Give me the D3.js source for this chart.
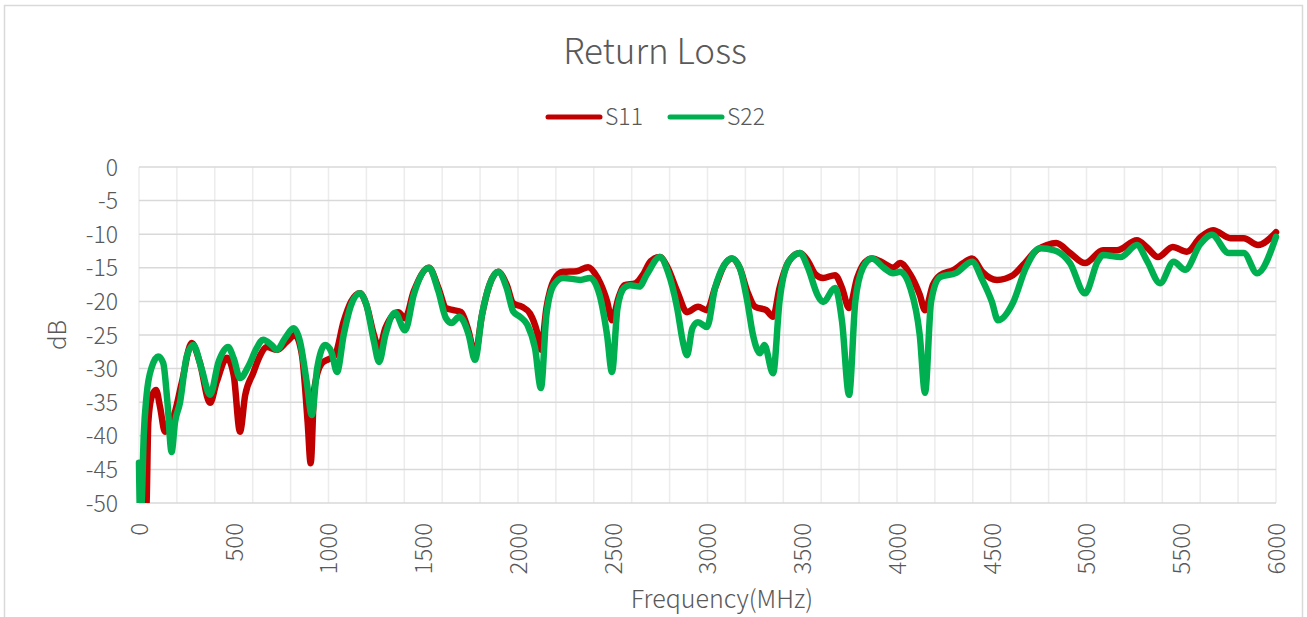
<!doctype html>
<html lang="en">
<head>
  <meta charset="UTF-8">
  <title>Return Loss</title>
  <script src="https://cdn.jsdelivr.net/npm/d3@7"></script>
  <style>
    body { margin: 0; background: #fff; }
    text { font-family: "Noto Sans CJK SC", "Noto Sans", sans-serif; font-weight: 300; fill: #595959; }
  </style>
</head>
<body>
<div id="chart"></div>
<script>
  // frequency (MHz) and dB readings, one pair of arrays per trace
  var s11Freq = [0, 20, 40, 49, 67, 90, 111, 137, 155, 181, 225, 278, 320, 375, 410, 464, 500, 533, 560, 602,
    640, 675, 728, 780, 823, 860, 890, 906, 925, 965, 1000, 1034, 1080, 1120, 1166, 1200, 1240, 1267, 1300, 1368,
    1404, 1450, 1530, 1580, 1620, 1660, 1700, 1740, 1773, 1810, 1850, 1895, 1940, 1975, 2021, 2063, 2100, 2121, 2150, 2190,
    2238, 2310, 2370, 2420, 2470, 2496, 2530, 2560, 2620, 2660, 2700, 2749, 2790, 2840, 2892, 2950, 2997, 3040, 3090, 3129,
    3170, 3210, 3251, 3310, 3346, 3380, 3430, 3488, 3530, 3570, 3610, 3673, 3710, 3747, 3790, 3830, 3868, 3930, 3979, 4016,
    4070, 4120, 4148, 4190, 4227, 4300, 4350, 4396, 4450, 4528, 4612, 4665, 4740, 4791, 4840, 4913, 4992, 5087, 5160, 5266,
    5320, 5377, 5455, 5530, 5600, 5668, 5760, 5830, 5905, 6000];
  var s11dB = [-58, -56, -50, -38, -34.2, -33.2, -35.7, -39.4, -38, -37.2, -32.2, -26.2, -29, -35.1, -32, -28.4, -31, -39.4, -34, -30.7,
    -28, -26.8, -27.2, -26, -25, -28, -38, -44.1, -33, -29.2, -28.6, -28, -23, -20, -18.8, -20.5, -25, -27, -24, -21.6,
    -22.5, -18.5, -15, -18, -21, -21.3, -21.6, -24.5, -28, -22, -17.5, -15.6, -17.5, -20.3, -20.8, -21.8, -24.5, -27.2, -21, -16.8,
    -15.6, -15.5, -14.9, -16.5, -20, -22.8, -19.5, -17.6, -17.3, -16, -14, -13.4, -15, -18.5, -21.6, -20.8, -21.3, -18, -14.5, -13.6,
    -15, -18.5, -20.8, -21.3, -22.3, -18, -14, -12.8, -14, -16, -16.5, -16.1, -18, -21, -16.5, -14.2, -13.6, -14.3, -15, -14.3,
    -16, -19, -21.3, -17.5, -16.1, -15.3, -14.3, -13.6, -15.6, -16.8, -16.1, -14.6, -12.3, -11.6, -11.3, -12.8, -14.3, -12.4, -12.4, -10.9,
    -12, -13.4, -11.9, -12.6, -10.5, -9.4, -10.6, -10.6, -11.6, -9.7];

  var s22Freq = [0, 6, 14, 25, 40, 67, 102, 128, 150, 172, 190, 216, 252, 287, 330, 375, 420, 470, 500, 533,
    580, 620, 655, 700, 728, 770, 815, 850, 885, 912, 940, 982, 1015, 1045, 1080, 1120, 1166, 1200, 1240, 1267,
    1300, 1351, 1404, 1450, 1530, 1580, 1620, 1650, 1690, 1740, 1773, 1810, 1850, 1895, 1940, 1975, 2011, 2050, 2090, 2121,
    2150, 2190, 2238, 2330, 2380, 2430, 2470, 2496, 2525, 2560, 2591, 2640, 2680, 2749, 2790, 2840, 2870, 2892, 2920, 2950,
    2997, 3040, 3090, 3129, 3170, 3210, 3240, 3277, 3300, 3346, 3380, 3430, 3488, 3530, 3580, 3610, 3673, 3710, 3747, 3780,
    3820, 3868, 3930, 3979, 4016, 4070, 4120, 4148, 4180, 4227, 4310, 4396, 4450, 4500, 4533, 4612, 4680, 4755, 4830, 4913,
    4992, 5060, 5087, 5180, 5266, 5320, 5388, 5460, 5520, 5600, 5662, 5750, 5830, 5900, 6000];
  var s22dB = [-44, -52, -50, -40, -34, -29.8, -28.2, -29.2, -35, -42.4, -38, -35.1, -28.2, -26.5, -30, -33.9, -29, -26.8, -28.5, -31.4,
    -29.5, -27, -25.7, -26.5, -27.2, -25.5, -24, -26, -32, -36.9, -30, -26.5, -27.5, -30.5, -25, -20.5, -18.8, -20.5, -26, -29,
    -25, -21.7, -24.3, -19, -15, -18.5, -22.5, -23.2, -22.3, -25, -28.7, -22, -17.5, -15.6, -18, -21.5, -22.3, -23.5, -27, -32.9,
    -22, -17.5, -16.5, -16.8, -16.5, -19, -25, -30.5, -21, -18, -17.6, -17.8, -16, -13.4, -15.5, -21, -26, -28, -24, -23.1,
    -23.8, -18, -14.5, -13.6, -15, -20, -25, -27.7, -26.5, -30.7, -20, -14, -12.8, -15, -19, -20.1, -18, -23, -33.9, -20,
    -15, -13.6, -15, -15.8, -15.6, -18, -25, -33.6, -20, -16.4, -15.8, -14.1, -16.8, -20, -22.8, -20.2, -15, -12.1, -12.4, -14.3,
    -18.8, -14, -13.1, -13.4, -11.6, -14, -17.3, -14.1, -15.3, -11.5, -10.1, -12.8, -12.8, -15.8, -10.4];

  var seriesNames = ["S11", "S22"];
  var seriesColors = ["#C00000", "#00B050"];
  var xTickValues = [0, 500, 1000, 1500, 2000, 2500, 3000, 3500, 4000, 4500, 5000, 5500, 6000];
  var yTickValues = [0, -5, -10, -15, -20, -25, -30, -35, -40, -45, -50];

  var width = 1307, height = 617;
  var margin = {left: 139, right: 31, top: 167, bottom: 114};

  var svg = d3.select("#chart").append("svg")
      .attr("width", width)
      .attr("height", height);

  // chart frame
  svg.append("rect")
      .attr("x", 4.5).attr("y", 5.5)
      .attr("width", 1298).attr("height", 640)
      .style("fill", "none")
      .style("stroke", "#d9d9d9")
      .style("stroke-width", 1.5);

  var x = d3.scaleLinear().domain([0, 6000]).range([margin.left, width - margin.right]);
  var y = d3.scaleLinear().domain([-50, 0]).range([height - margin.bottom, margin.top]);

  // vertical grid every 200 MHz, lighter than the horizontal one
  svg.append("g")
      .selectAll("line")
      .data(d3.range(0, 6001, 200))
      .enter().append("line")
      .attr("x1", function(d) { return x(d); })
      .attr("x2", function(d) { return x(d); })
      .attr("y1", y(0)).attr("y2", y(-50))
      .style("stroke", "#ececec")
      .style("stroke-width", 1.5);

  svg.append("g")
      .selectAll("line")
      .data(yTickValues)
      .enter().append("line")
      .attr("x1", x(0)).attr("x2", x(6000))
      .attr("y1", function(d) { return y(d); })
      .attr("y2", function(d) { return y(d); })
      .style("stroke", "#d9d9d9")
      .style("stroke-width", 1.5);

  // y axis labels
  var yAxis = svg.append("g")
      .attr("transform", "translate(" + (margin.left - 21) + ",0)")
      .call(d3.axisLeft(y).tickValues(yTickValues).tickSize(0).tickPadding(0)
        .tickFormat(function(d) { return d < 0 ? "-" + Math.abs(d) : d; }));
  yAxis.select(".domain").remove();
  yAxis.selectAll("text")
      .style("font-size", "23px")
      .style("fill", "#595959")
      .attr("dy", "0.35em")
      .attr("x", 0);

  // x axis labels, rotated
  var xAxis = svg.append("g")
      .attr("transform", "translate(0," + (y(-50) + 20) + ")")
      .call(d3.axisBottom(x).tickValues(xTickValues).tickSize(0).tickPadding(0)
        .tickFormat(d3.format("d")));
  xAxis.select(".domain").remove();
  xAxis.selectAll("text")
      .style("font-size", "24px")
      .style("fill", "#595959")
      .attr("y", 0)
      .attr("dy", "0.35em")
      .attr("transform", "rotate(-90)")
      .style("text-anchor", "end");
  svg.selectAll("g").attr("font-family", null);

  // lines
  svg.append("clipPath").attr("id", "plotClip")
    .append("rect")
      .attr("x", x(0) - 4).attr("y", y(0))
      .attr("width", x(6000) - x(0) + 8).attr("height", y(-50) - y(0));

  var line = d3.line()
      .x(function(d) { return x(d[0]); })
      .y(function(d) { return y(d[1]); })
      .curve(d3.curveMonotoneX);

  var series = [d3.zip(s11Freq, s11dB), d3.zip(s22Freq, s22dB)];

  svg.append("g").attr("clip-path", "url(#plotClip)")
      .selectAll("path")
      .data(series)
      .enter().append("path")
      .attr("d", line)
      .style("fill", "none")
      .style("stroke", function(d, i) { return seriesColors[i]; })
      .style("stroke-width", 6.5)
      .style("stroke-linejoin", "round")
      .style("stroke-linecap", "round");

  // title
  svg.append("text")
      .attr("x", 655).attr("y", 64)
      .style("text-anchor", "middle")
      .style("font-size", "35px")
      .text("Return Loss");

  // legend
  var legend = svg.append("g").selectAll("g")
      .data(seriesNames)
      .enter().append("g")
      .attr("transform", function(d, i) { return "translate(" + (548 + i * 122) + ",117)"; });
  legend.append("line")
      .attr("x1", 0).attr("x2", 52)
      .style("stroke", function(d, i) { return seriesColors[i]; })
      .style("stroke-width", 5)
      .style("stroke-linecap", "round");
  legend.append("text")
      .attr("x", 57).attr("dy", "0.35em")
      .style("font-size", "23px")
      .text(function(d) { return d; });

  // axis titles
  svg.append("text")
      .attr("x", 722).attr("y", 608)
      .style("text-anchor", "middle")
      .style("font-size", "25px")
      .text("Frequency(MHz)");

  svg.append("text")
      .attr("transform", "translate(66,335) rotate(-90)")
      .style("text-anchor", "middle")
      .style("font-size", "24px")
      .text("dB");
</script>
</body>
</html>
